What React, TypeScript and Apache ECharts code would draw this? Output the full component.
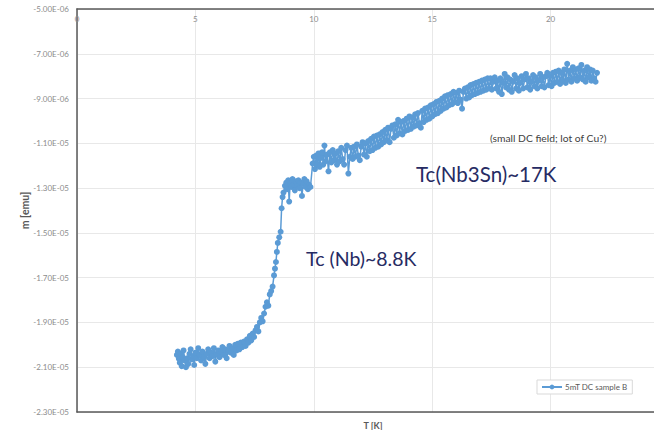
import React, { useEffect, useRef } from "react";
import * as echarts from "echarts";

// m values in units of 1e-6 emu, T in K
const lowT: [number, number][] = [
  [4.22,-20.45],[4.26,-20.30],[4.30,-20.62],[4.34,-20.80],[4.38,-20.40],[4.42,-20.95],[4.46,-20.55],[4.50,-20.25],[4.55,-20.70],[4.60,-21.00],[4.65,-20.60],[4.70,-20.85],[4.75,-20.40],[4.80,-20.20],[4.85,-20.65],[4.90,-20.50],[4.95,-20.90],[5.00,-20.35],[5.06,-20.60],[5.12,-20.15],[5.18,-20.45],[5.24,-20.70],[5.30,-20.30],[5.36,-20.55],[5.42,-20.85],[5.48,-20.40],[5.54,-20.20],[5.60,-20.60],[5.66,-20.35],[5.72,-20.50],[5.78,-20.15],[5.84,-20.75],[5.90,-20.40],[5.96,-20.25],[6.02,-20.55],[6.08,-20.30],[6.14,-20.10],[6.20,-20.45],[6.26,-20.20],[6.32,-20.60],[6.38,-20.30],[6.44,-20.05],[6.50,-20.35],[6.56,-20.15],[6.62,-20.45],[6.68,-20.00],[6.74,-20.25],[6.80,-19.95],[6.86,-20.20],[6.92,-19.90],[6.98,-20.10],
];
const nbTransition: [number, number][] = [
  [7.05,-19.85],[7.12,-20.05],[7.18,-19.75],[7.24,-19.90],[7.30,-19.60],[7.36,-19.80],[7.42,-19.50],[7.48,-19.65],[7.54,-19.35],[7.60,-19.20],[7.66,-19.40],[7.72,-19.00],[7.78,-18.80],[7.84,-18.95],[7.90,-18.60],[7.96,-18.30],[8.02,-18.10],[8.08,-18.25],[8.14,-17.75],[8.20,-17.60],[8.26,-17.40],[8.32,-16.90],[8.36,-16.60],[8.40,-16.30],[8.44,-15.85],[8.48,-15.45],[8.54,-15.20],[8.60,-14.95],[8.64,-13.90],[8.68,-13.40],[8.72,-13.20],[8.78,-12.90],
];
const plateau: [number, number][] = [
  [8.84,-12.75],[8.88,-13.05],[8.92,-12.65],[8.96,-13.60],[9.00,-12.80],[9.05,-12.95],[9.10,-12.60],[9.15,-12.85],[9.20,-13.10],[9.25,-12.70],[9.30,-12.90],[9.35,-12.65],[9.40,-13.00],[9.45,-12.75],[9.50,-13.35],[9.55,-12.80],[9.60,-12.60],[9.65,-12.95],[9.70,-12.70],[9.75,-13.05],[9.80,-12.85],[9.86,-12.95],
];
const midT: [number, number][] = [
  [9.95,-11.90],[10.00,-11.60],[10.05,-12.15],[10.10,-11.55],[10.15,-11.95],[10.20,-11.45],[10.25,-12.05],[10.30,-11.65],[10.35,-11.40],[10.40,-11.95],[10.45,-11.10],[10.50,-11.80],[10.56,-11.50],[10.62,-12.25],[10.68,-11.40],[10.74,-11.85],[10.80,-11.30],[10.86,-11.75],[10.92,-11.45],[10.98,-11.95],[11.04,-11.35],[11.10,-11.80],[11.16,-11.20],[11.22,-11.70],[11.28,-11.95],[11.34,-11.30],[11.40,-11.10],[11.46,-12.35],[11.52,-11.60],[11.58,-11.20],[11.64,-11.70],[11.70,-11.15],[11.76,-11.60],[11.82,-11.05],[11.88,-11.55],[11.94,-11.75],[12.00,-11.15],[12.06,-10.95],[12.12,-11.50],[12.18,-11.00],[12.24,-11.60],[12.30,-10.90],[12.36,-11.35],[12.42,-10.80],[12.48,-11.30],[12.54,-10.70],[12.60,-11.20],[12.66,-10.65],[12.72,-11.15],[12.78,-10.60],[12.84,-11.05],[12.90,-10.50],[12.96,-10.95],[13.02,-10.40],[13.08,-10.85],[13.14,-10.30],[13.20,-10.95],[13.26,-10.35],[13.32,-10.20],[13.38,-10.75],[13.44,-10.15],[13.50,-10.65],[13.56,-9.95],[13.62,-10.55],[13.68,-10.05],[13.74,-10.60],[13.80,-10.00],[13.86,-10.45],[13.92,-9.90],[13.98,-10.40],[14.04,-9.80],[14.10,-10.35],[14.16,-9.85],[14.22,-10.25],[14.28,-9.70],[14.34,-10.20],[14.40,-9.65],[14.46,-10.10],
];
const nb3snTransition: [number, number][] = [
  [14.52,-10.30],[14.58,-9.55],[14.64,-10.05],[14.70,-9.45],[14.76,-9.95],[14.82,-9.40],[14.88,-9.90],[14.94,-9.30],[15.00,-9.80],[15.06,-9.25],[15.12,-9.70],[15.18,-9.15],[15.24,-9.65],[15.30,-9.10],[15.36,-9.55],[15.42,-9.00],[15.48,-9.45],[15.54,-8.90],[15.60,-9.40],[15.66,-8.85],[15.72,-9.30],[15.78,-8.80],[15.84,-9.25],[15.90,-8.70],[15.96,-9.15],[16.02,-8.75],[16.08,-9.20],[16.14,-8.65],[16.20,-9.05],[16.26,-9.45],[16.32,-8.70],[16.38,-8.55],[16.44,-9.00],[16.50,-8.50],[16.56,-8.95],[16.62,-8.40],[16.68,-8.85],[16.74,-8.35],[16.80,-8.80],[16.86,-8.30],[16.92,-8.75],[16.98,-8.25],[17.04,-8.70],[17.10,-8.20],[17.16,-8.65],[17.22,-8.15],[17.28,-8.60],[17.34,-8.10],[17.40,-8.55],
];
const highT: [number, number][] = [
  [17.46,-8.10],[17.52,-8.60],[17.58,-8.25],[17.64,-8.05],[17.70,-8.55],[17.76,-8.20],[17.82,-8.70],[17.88,-8.10],[17.94,-8.80],[18.00,-8.30],[18.06,-7.90],[18.12,-8.50],[18.18,-8.05],[18.24,-8.60],[18.30,-8.15],[18.36,-8.70],[18.42,-8.25],[18.48,-7.95],[18.54,-8.55],[18.60,-8.10],[18.66,-8.65],[18.72,-8.30],[18.78,-8.00],[18.84,-8.55],[18.90,-8.15],[18.96,-7.90],[19.02,-8.50],[19.08,-8.10],[19.14,-8.60],[19.20,-8.25],[19.26,-7.95],[19.32,-8.45],[19.38,-8.05],[19.44,-8.55],[19.50,-8.20],[19.56,-7.90],[19.62,-8.45],[19.68,-8.05],[19.74,-8.50],[19.80,-8.00],[19.86,-7.85],[19.92,-8.40],[19.98,-8.00],[20.04,-8.45],[20.10,-7.85],[20.16,-8.30],[20.22,-7.80],[20.28,-8.25],[20.34,-7.75],[20.40,-8.35],[20.46,-7.85],[20.52,-8.20],[20.58,-7.70],[20.64,-8.30],[20.70,-7.45],[20.76,-8.15],[20.82,-7.75],[20.88,-8.25],[20.94,-7.60],[21.00,-8.10],[21.06,-7.70],[21.12,-8.20],[21.18,-7.65],[21.24,-8.05],[21.30,-7.50],[21.36,-8.15],[21.42,-7.75],[21.48,-8.25],[21.54,-7.60],[21.60,-8.05],[21.66,-7.70],[21.72,-8.20],[21.78,-7.75],[21.84,-8.10],[21.90,-8.25],[21.96,-7.85],
];

const seriesName = "5mT DC sample B";
const xTicks = { min: 0, max: 25, interval: 5 };
const yTicks = { min: -23, max: -5, interval: 2 }; // in 1e-6 emu

const FONT = "Lato, 'Open Sans', sans-serif";

function fmtE(v: number): string {
  if (v === 0) return "0.00E+00";
  const p = Math.floor(Math.log10(Math.abs(v)) + 1e-9);
  const mant = v / Math.pow(10, p);
  const e = p - 6;
  const es = (e < 0 ? "-" : "+") + String(Math.abs(e)).padStart(2, "0");
  return mant.toFixed(2) + "E" + es;
}

export default function App() {
  const ref = useRef<HTMLDivElement>(null);
  useEffect(() => {
    if (!ref.current) return;
    const chart = echarts.init(ref.current, undefined, { renderer: "svg" });
    const data = [...lowT, ...nbTransition, ...plateau, ...midT, ...nb3snTransition, ...highT];
    const axisCol = "#595959";
    chart.setOption({
      animation: false,
      backgroundColor: "#ffffff",
      grid: { left: 77, top: 9, width: 592, height: 403, containLabel: false, outerBoundsMode: "none" },
      legend: {
        left: 537,
        top: 380,
        data: [seriesName],
        backgroundColor: "#ffffff",
        borderColor: "#d9d9d9",
        borderWidth: 1,
        padding: [3, 5, 3, 4],
        itemWidth: 20,
        itemHeight: 6,
        itemGap: 4,
        textStyle: { fontSize: 8, color: "#595959", fontFamily: FONT, padding: [0, 0, 0, -2] },
      },
      xAxis: [
        {
          type: "value",
          position: "top",
          min: xTicks.min,
          max: xTicks.max,
          interval: xTicks.interval,
          axisLine: { show: true, onZero: false, lineStyle: { color: axisCol, width: 1.5 } },
          axisTick: { show: false },
          axisLabel: { inside: true, margin: 6, fontSize: 8, color: "#8c8c8c", fontFamily: FONT, showMaxLabel: false },
          splitLine: { show: true, lineStyle: { color: "#e8e8e8", width: 1 } },
        },
        {
          type: "value",
          position: "bottom",
          min: xTicks.min,
          max: xTicks.max,
          interval: xTicks.interval,
          axisLine: { show: true, onZero: false, lineStyle: { color: axisCol, width: 1.5 } },
          axisTick: { show: false },
          axisLabel: { show: false },
          splitLine: { show: false },
          name: "T [K]",
          nameLocation: "middle",
          nameGap: 9,
          nameTextStyle: { fontSize: 9, fontWeight: "bold", color: "#595959", fontFamily: FONT },
        },
      ],
      yAxis: {
        type: "value",
        min: yTicks.min,
        max: yTicks.max,
        interval: yTicks.interval,
        axisLine: { show: true, onZero: false, lineStyle: { color: axisCol, width: 1.5 } },
        axisTick: { show: false },
        axisLabel: {
          margin: 8,
          fontSize: 8,
          color: "#8c8c8c",
          fontFamily: FONT,
          formatter: (v: number) => fmtE(v),
        },
        splitLine: { show: true, lineStyle: { color: "#e8e8e8", width: 1 } },
        name: "m [emu]",
        nameLocation: "middle",
        nameGap: 47,
        nameMoveOverlap: false,
        nameRotate: 90,
        nameTextStyle: { fontSize: 10.5, fontWeight: "bold", color: "#595959", fontFamily: FONT },
      },
      series: [
        {
          name: seriesName,
          type: "line",
          xAxisIndex: 0,
          data,
          symbol: "circle",
          symbolSize: 6,
          showAllSymbol: true,
          lineStyle: { color: "#5b9bd5", width: 1.5 },
          itemStyle: { color: "#5b9bd5" },
        },
      ],
      graphic: [
        {
          type: "text",
          left: 306,
          top: 248,
          z: 100,
          style: { text: "Tc (Nb)~8.8K", fontSize: 19.5, fill: "#262b63", fontFamily: FONT },
        },
        {
          type: "text",
          left: 416,
          top: 163,
          z: 100,
          style: { text: "Tc(Nb3Sn)~17K", fontSize: 20.5, fill: "#262b63", fontFamily: FONT },
        },
        {
          type: "text",
          left: 490,
          top: 133,
          z: 100,
          style: { text: "(small DC field; lot of Cu?)", fontSize: 10.3, fill: "#404040", fontFamily: FONT },
        },
      ],
    });
    return () => chart.dispose();
  }, []);
  return (
    <div
      ref={ref}
      style={{ position: "fixed", left: 0, top: 0, width: 654, height: 430, background: "#fff" }}
    />
  );
}
